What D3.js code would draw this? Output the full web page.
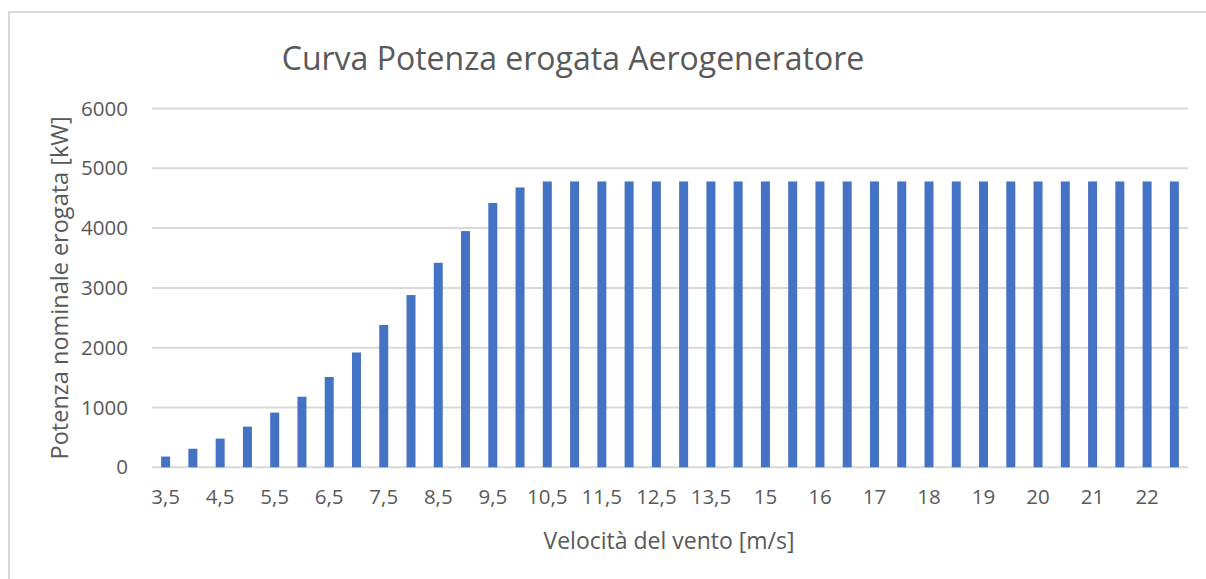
<!DOCTYPE html>
<html>
<head>
<meta charset="utf-8">
<script src="https://cdn.jsdelivr.net/npm/d3@7"></script>
<style>
  body { margin: 0; background: #fff; }
  text { font-family: "Open Sans", sans-serif; fill: #595959; }
</style>
</head>
<body>
<svg id="chart"></svg>
<script>
// wind speed classes (m/s) - one bar each
const speeds = [3.5, 4, 4.5, 5, 5.5, 6, 6.5, 7, 7.5, 8, 8.5, 9, 9.5, 10,
    10.5, 11, 11.5, 12, 12.5, 13, 13.5, 14, 14.5, 15, 15.5, 16, 16.5, 17,
    17.5, 18, 18.5, 19, 19.5, 20, 20.5, 21, 21.5, 22];

// power output (kW)
const power = [180, 310, 480, 680, 915, 1180, 1510, 1920, 2380, 2880, 3420, 3950, 4420, 4680,
    4780, 4780, 4780, 4780, 4780, 4780, 4780, 4780, 4780, 4780, 4780, 4780, 4780, 4780,
    4780, 4780, 4780, 4780, 4780, 4780, 4780, 4780, 4780, 4780];

// labels excel printed under every other bar
const xTickLabels = ["3,5", "4,5", "5,5", "6,5", "7,5", "8,5", "9,5", "10,5", "11,5", "12,5",
    "13,5", "15", "16", "17", "18", "19", "20", "21", "22"];
const yTicks = [0, 1000, 2000, 3000, 4000, 5000, 6000];

const width = 1206;
const height = 579;
const margin = ({ top: 108.5, right: 18, bottom: 111.7, left: 152 });

const svg = d3.select("#chart")
    .attr("width", width)
    .attr("height", height);

// light frame of the chart area
svg.append("path")
    .attr("d", `M9,${height} V12 H${width}`)
    .attr("fill", "none")
    .attr("stroke", "#d9d9d9")
    .attr("stroke-width", 2);

const xScale = d3.scaleBand()
    .domain(speeds)
    .range([margin.left, width - margin.right])
    .paddingInner(0.67)
    .paddingOuter(0.335);

const yScale = d3.scaleLinear()
    .domain([0, 6000])
    .range([height - margin.bottom, margin.top]);

// gridlines
svg.append("g")
    .selectAll("line")
    .data(yTicks)
    .join("line")
    .attr("x1", margin.left)
    .attr("x2", width - margin.right)
    .attr("y1", d => yScale(d))
    .attr("y2", d => yScale(d))
    .attr("stroke", "#d9d9d9")
    .attr("stroke-width", 2);

// y axis labels
const yAxis = svg.append("g")
    .attr("transform", `translate(${margin.left - 24},0)`)
    .call(d3.axisLeft(yScale).tickValues(yTicks).tickSize(0).tickPadding(0).tickFormat(d3.format("d")));
yAxis.select(".domain").remove();
yAxis.selectAll("text")
    .attr("font-size", 20.5)
    .attr("font-family", null)
    .attr("fill", "#595959");

// bars
svg.append("g")
    .selectAll("rect")
    .data(speeds)
    .join("rect")
    .attr("x", d => xScale(d))
    .attr("width", xScale.bandwidth())
    .attr("y", (d, i) => yScale(power[i]))
    .attr("height", (d, i) => yScale(0) - yScale(power[i]))
    .attr("fill", "#4472c4");

// x axis: label every other class
const shown = speeds.filter((d, i) => i % 2 === 0);
const xAxis = svg.append("g")
    .attr("transform", `translate(0,${height - margin.bottom + 22})`)
    .call(d3.axisBottom(xScale)
        .tickValues(shown)
        .tickSize(0)
        .tickPadding(0)
        .tickFormat((d, i) => xTickLabels[i]));
xAxis.select(".domain").remove();
xAxis.selectAll("text")
    .attr("font-size", 20.5)
    .attr("font-family", null)
    .attr("fill", "#595959");

// titles
svg.append("text")
    .attr("x", 573)
    .attr("y", 70)
    .attr("text-anchor", "middle")
    .attr("font-size", 32)
    .text("Curva Potenza erogata Aerogeneratore");

svg.append("text")
    .attr("x", 669)
    .attr("y", 549)
    .attr("text-anchor", "middle")
    .attr("font-size", 23)
    .text("Velocità del vento [m/s]");

svg.append("text")
    .attr("transform", `translate(68,${(margin.top + height - margin.bottom) / 2}) rotate(-90)`)
    .attr("text-anchor", "middle")
    .attr("font-size", 23.5)
    .text("Potenza nominale erogata [kW]");
</script>
</body>
</html>
